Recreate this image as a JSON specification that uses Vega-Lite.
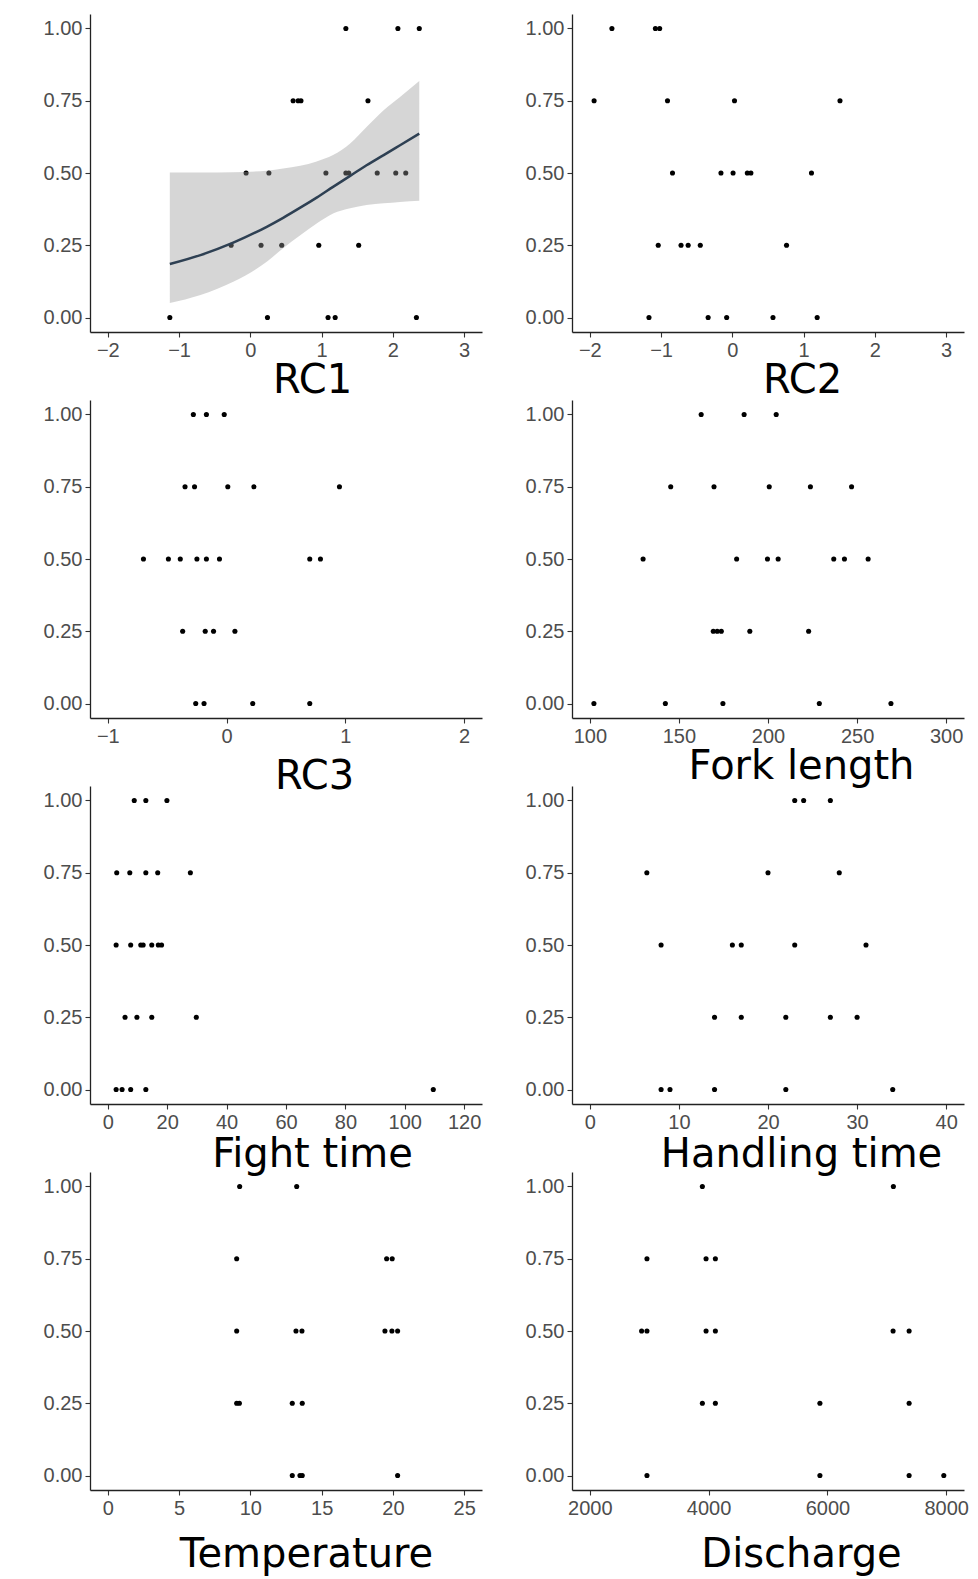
{
  "$schema": "https://vega.github.io/schema/vega-lite/v6.json",
  "background": "white",
  "padding": {"left": 43, "top": 14, "right": 5, "bottom": 5},
  "config": {
    "view": {"stroke": null},
    "axis": {"grid": false, "domainColor": "#222222", "domainWidth": 1.3, "tickColor": "#333333", "tickSize": 5, "tickWidth": 1.1, "labelFont": "Liberation Sans", "labelFontSize": 20, "labelColor": "#4d4d4d", "labelPadding": 3, "titleFont": "DejaVu Sans", "titleFontSize": 40, "titleFontWeight": "normal", "titleColor": "#000000", "titleBaseline": "alphabetic", "titleAlign": "center"}
  },
  "datasets": {
    "pts": [
      {"p":"RC1","x":1.34,"y":1},{"p":"RC1","x":2.07,"y":1},{"p":"RC1","x":2.37,"y":1},
      {"p":"RC1","x":0.6,"y":0.75},{"p":"RC1","x":0.67,"y":0.75},{"p":"RC1","x":0.71,"y":0.75},{"p":"RC1","x":1.65,"y":0.75},
      {"p":"RC1","x":-0.06,"y":0.5},{"p":"RC1","x":0.26,"y":0.5},{"p":"RC1","x":1.06,"y":0.5},{"p":"RC1","x":1.34,"y":0.5},{"p":"RC1","x":1.38,"y":0.5},{"p":"RC1","x":1.78,"y":0.5},{"p":"RC1","x":2.04,"y":0.5},{"p":"RC1","x":2.18,"y":0.5},
      {"p":"RC1","x":-0.27,"y":0.25},{"p":"RC1","x":0.15,"y":0.25},{"p":"RC1","x":0.44,"y":0.25},{"p":"RC1","x":0.96,"y":0.25},{"p":"RC1","x":1.52,"y":0.25},
      {"p":"RC1","x":-1.13,"y":0},{"p":"RC1","x":0.24,"y":0},{"p":"RC1","x":1.09,"y":0},{"p":"RC1","x":1.19,"y":0},{"p":"RC1","x":2.33,"y":0},

      {"p":"RC2","x":-1.69,"y":1},{"p":"RC2","x":-1.08,"y":1},{"p":"RC2","x":-1.02,"y":1},
      {"p":"RC2","x":-1.94,"y":0.75},{"p":"RC2","x":-0.91,"y":0.75},{"p":"RC2","x":0.03,"y":0.75},{"p":"RC2","x":1.51,"y":0.75},
      {"p":"RC2","x":-0.84,"y":0.5},{"p":"RC2","x":-0.16,"y":0.5},{"p":"RC2","x":0.01,"y":0.5},{"p":"RC2","x":0.21,"y":0.5},{"p":"RC2","x":0.26,"y":0.5},{"p":"RC2","x":1.11,"y":0.5},
      {"p":"RC2","x":-1.04,"y":0.25},{"p":"RC2","x":-0.72,"y":0.25},{"p":"RC2","x":-0.62,"y":0.25},{"p":"RC2","x":-0.45,"y":0.25},{"p":"RC2","x":0.76,"y":0.25},
      {"p":"RC2","x":-1.17,"y":0},{"p":"RC2","x":-0.34,"y":0},{"p":"RC2","x":-0.08,"y":0},{"p":"RC2","x":0.57,"y":0},{"p":"RC2","x":1.19,"y":0},

      {"p":"RC3","x":-0.28,"y":1},{"p":"RC3","x":-0.17,"y":1},{"p":"RC3","x":-0.02,"y":1},
      {"p":"RC3","x":-0.35,"y":0.75},{"p":"RC3","x":-0.27,"y":0.75},{"p":"RC3","x":0.01,"y":0.75},{"p":"RC3","x":0.23,"y":0.75},{"p":"RC3","x":0.95,"y":0.75},
      {"p":"RC3","x":-0.7,"y":0.5},{"p":"RC3","x":-0.49,"y":0.5},{"p":"RC3","x":-0.39,"y":0.5},{"p":"RC3","x":-0.25,"y":0.5},{"p":"RC3","x":-0.17,"y":0.5},{"p":"RC3","x":-0.06,"y":0.5},{"p":"RC3","x":0.7,"y":0.5},{"p":"RC3","x":0.79,"y":0.5},
      {"p":"RC3","x":-0.37,"y":0.25},{"p":"RC3","x":-0.18,"y":0.25},{"p":"RC3","x":-0.11,"y":0.25},{"p":"RC3","x":0.07,"y":0.25},
      {"p":"RC3","x":-0.26,"y":0},{"p":"RC3","x":-0.19,"y":0},{"p":"RC3","x":0.22,"y":0},{"p":"RC3","x":0.7,"y":0},

      {"p":"FL","x":162.5,"y":1},{"p":"FL","x":186.6,"y":1},{"p":"FL","x":204.6,"y":1},
      {"p":"FL","x":145.4,"y":0.75},{"p":"FL","x":169.7,"y":0.75},{"p":"FL","x":200.7,"y":0.75},{"p":"FL","x":223.8,"y":0.75},{"p":"FL","x":246.9,"y":0.75},
      {"p":"FL","x":129.9,"y":0.5},{"p":"FL","x":182.4,"y":0.5},{"p":"FL","x":199.7,"y":0.5},{"p":"FL","x":205.7,"y":0.5},{"p":"FL","x":236.9,"y":0.5},{"p":"FL","x":242.9,"y":0.5},{"p":"FL","x":256.2,"y":0.5},
      {"p":"FL","x":169.3,"y":0.25},{"p":"FL","x":171.5,"y":0.25},{"p":"FL","x":173.8,"y":0.25},{"p":"FL","x":189.8,"y":0.25},{"p":"FL","x":222.8,"y":0.25},
      {"p":"FL","x":102.3,"y":0},{"p":"FL","x":142.4,"y":0},{"p":"FL","x":174.7,"y":0},{"p":"FL","x":228.8,"y":0},{"p":"FL","x":269,"y":0},

      {"p":"FT","x":8.9,"y":1},{"p":"FT","x":12.8,"y":1},{"p":"FT","x":19.9,"y":1},
      {"p":"FT","x":3.0,"y":0.75},{"p":"FT","x":7.4,"y":0.75},{"p":"FT","x":12.8,"y":0.75},{"p":"FT","x":16.8,"y":0.75},{"p":"FT","x":27.8,"y":0.75},
      {"p":"FT","x":2.8,"y":0.5},{"p":"FT","x":7.7,"y":0.5},{"p":"FT","x":11.1,"y":0.5},{"p":"FT","x":11.9,"y":0.5},{"p":"FT","x":14.8,"y":0.5},{"p":"FT","x":17.0,"y":0.5},{"p":"FT","x":18.1,"y":0.5},
      {"p":"FT","x":5.8,"y":0.25},{"p":"FT","x":9.8,"y":0.25},{"p":"FT","x":14.8,"y":0.25},{"p":"FT","x":29.8,"y":0.25},
      {"p":"FT","x":2.8,"y":0},{"p":"FT","x":4.8,"y":0},{"p":"FT","x":7.7,"y":0},{"p":"FT","x":12.8,"y":0},{"p":"FT","x":109.6,"y":0},

      {"p":"HT","x":23,"y":1},{"p":"HT","x":24,"y":1},{"p":"HT","x":27,"y":1},
      {"p":"HT","x":6.4,"y":0.75},{"p":"HT","x":20,"y":0.75},{"p":"HT","x":28,"y":0.75},
      {"p":"HT","x":8,"y":0.5},{"p":"HT","x":16,"y":0.5},{"p":"HT","x":17,"y":0.5},{"p":"HT","x":23,"y":0.5},{"p":"HT","x":31,"y":0.5},
      {"p":"HT","x":14,"y":0.25},{"p":"HT","x":17,"y":0.25},{"p":"HT","x":22,"y":0.25},{"p":"HT","x":27,"y":0.25},{"p":"HT","x":30,"y":0.25},
      {"p":"HT","x":8,"y":0},{"p":"HT","x":9,"y":0},{"p":"HT","x":14,"y":0},{"p":"HT","x":22,"y":0},{"p":"HT","x":34,"y":0},

      {"p":"TE","x":9.25,"y":1},{"p":"TE","x":13.25,"y":1},
      {"p":"TE","x":9.04,"y":0.75},{"p":"TE","x":19.56,"y":0.75},{"p":"TE","x":19.95,"y":0.75},
      {"p":"TE","x":9.04,"y":0.5},{"p":"TE","x":13.2,"y":0.5},{"p":"TE","x":13.62,"y":0.5},{"p":"TE","x":19.44,"y":0.5},{"p":"TE","x":19.93,"y":0.5},{"p":"TE","x":20.33,"y":0.5},
      {"p":"TE","x":9.04,"y":0.25},{"p":"TE","x":9.23,"y":0.25},{"p":"TE","x":12.94,"y":0.25},{"p":"TE","x":13.64,"y":0.25},
      {"p":"TE","x":12.94,"y":0},{"p":"TE","x":13.48,"y":0},{"p":"TE","x":13.64,"y":0},{"p":"TE","x":20.33,"y":0},

      {"p":"DI","x":3895,"y":1},{"p":"DI","x":7111,"y":1},
      {"p":"DI","x":2962,"y":0.75},{"p":"DI","x":3957,"y":0.75},{"p":"DI","x":4114,"y":0.75},
      {"p":"DI","x":2872,"y":0.5},{"p":"DI","x":2962,"y":0.5},{"p":"DI","x":3957,"y":0.5},{"p":"DI","x":4114,"y":0.5},{"p":"DI","x":7106,"y":0.5},{"p":"DI","x":7376,"y":0.5},
      {"p":"DI","x":3895,"y":0.25},{"p":"DI","x":4114,"y":0.25},{"p":"DI","x":5874,"y":0.25},{"p":"DI","x":7376,"y":0.25},
      {"p":"DI","x":2962,"y":0},{"p":"DI","x":5874,"y":0},{"p":"DI","x":7376,"y":0},{"p":"DI","x":7960,"y":0}
    ],
    "fit": [
      {"x":-1.13,"lo":0.05,"fit":0.185,"hi":0.502},
      {"x":-0.7,"lo":0.078,"fit":0.216,"hi":0.502},
      {"x":-0.24,"lo":0.124,"fit":0.259,"hi":0.503},
      {"x":0.23,"lo":0.193,"fit":0.314,"hi":0.508},
      {"x":0.46,"lo":0.24,"fit":0.345,"hi":0.516},
      {"x":0.7,"lo":0.285,"fit":0.38,"hi":0.525},
      {"x":0.93,"lo":0.325,"fit":0.415,"hi":0.54},
      {"x":1.16,"lo":0.36,"fit":0.452,"hi":0.562},
      {"x":1.4,"lo":0.378,"fit":0.49,"hi":0.602},
      {"x":1.63,"lo":0.389,"fit":0.527,"hi":0.659},
      {"x":1.87,"lo":0.395,"fit":0.562,"hi":0.717},
      {"x":2.1,"lo":0.4,"fit":0.596,"hi":0.763},
      {"x":2.37,"lo":0.404,"fit":0.636,"hi":0.818}
    ]
  },
  "bounds": "flush",
  "columns": 2,
  "spacing": {"row": 68, "column": 90},
  "concat": [
    {
      "width": 392, "height": 318,
      "encoding": {
        "x": {"field": "x", "type": "quantitative", "scale": {"domain": [-2.25, 3.25], "nice": false, "zero": false}, "axis": {"values": [-2,-1,0,1,2,3], "title": "RC1", "titleX": 222, "titleY": 60}}
      },
      "layer": [
        {"data": {"name": "pts"}, "transform": [{"filter": "datum.p == 'RC1'"}],
         "mark": {"type": "point", "filled": true, "size": 26, "color": "#000000", "opacity": 1},
         "encoding": {"y": {"field": "y", "type": "quantitative", "scale": {"domain": [-0.05, 1.05], "nice": false, "zero": false}, "axis": {"values": [0,0.25,0.5,0.75,1], "format": ".2f", "title": null}}}},
        {"data": {"name": "fit"},
         "mark": {"type": "area", "color": "#999999", "opacity": 0.4, "interpolate": "monotone"},
         "encoding": {"y": {"field": "lo", "type": "quantitative", "scale": {"domain": [-0.05, 1.05], "nice": false, "zero": false}, "axis": {"values": [0,0.25,0.5,0.75,1], "format": ".2f", "title": null}}, "y2": {"field": "hi"}}},
        {"data": {"name": "fit"},
         "mark": {"type": "line", "color": "#2E4053", "strokeWidth": 2.5, "interpolate": "monotone"},
         "encoding": {"y": {"field": "fit", "type": "quantitative", "scale": {"domain": [-0.05, 1.05], "nice": false, "zero": false}, "axis": {"values": [0,0.25,0.5,0.75,1], "format": ".2f", "title": null}}}}
      ]
    },
    {
      "width": 392, "height": 318,
      "data": {"name": "pts"}, "transform": [{"filter": "datum.p == 'RC2'"}],
      "mark": {"type": "point", "filled": true, "size": 26, "color": "#000000", "opacity": 1},
      "encoding": {
        "x": {"field": "x", "type": "quantitative", "scale": {"domain": [-2.25, 3.25], "nice": false, "zero": false}, "axis": {"values": [-2,-1,0,1,2,3], "title": "RC2", "titleX": 230, "titleY": 60}},
        "y": {"field": "y", "type": "quantitative", "scale": {"domain": [-0.05, 1.05], "nice": false, "zero": false}, "axis": {"values": [0,0.25,0.5,0.75,1], "format": ".2f", "title": null}}
      }
    },
    {
      "width": 392, "height": 318,
      "data": {"name": "pts"}, "transform": [{"filter": "datum.p == 'RC3'"}],
      "mark": {"type": "point", "filled": true, "size": 26, "color": "#000000", "opacity": 1},
      "encoding": {
        "x": {"field": "x", "type": "quantitative", "scale": {"domain": [-1.15, 2.15], "nice": false, "zero": false}, "axis": {"values": [-1,0,1,2], "title": "RC3", "titleX": 224, "titleY": 70}},
        "y": {"field": "y", "type": "quantitative", "scale": {"domain": [-0.05, 1.05], "nice": false, "zero": false}, "axis": {"values": [0,0.25,0.5,0.75,1], "format": ".2f", "title": null}}
      }
    },
    {
      "width": 392, "height": 318,
      "data": {"name": "pts"}, "transform": [{"filter": "datum.p == 'FL'"}],
      "mark": {"type": "point", "filled": true, "size": 26, "color": "#000000", "opacity": 1},
      "encoding": {
        "x": {"field": "x", "type": "quantitative", "scale": {"domain": [90, 310], "nice": false, "zero": false}, "axis": {"values": [100,150,200,250,300], "title": "Fork length", "titleX": 229, "titleY": 60}},
        "y": {"field": "y", "type": "quantitative", "scale": {"domain": [-0.05, 1.05], "nice": false, "zero": false}, "axis": {"values": [0,0.25,0.5,0.75,1], "format": ".2f", "title": null}}
      }
    },
    {
      "width": 392, "height": 318,
      "data": {"name": "pts"}, "transform": [{"filter": "datum.p == 'FT'"}],
      "mark": {"type": "point", "filled": true, "size": 26, "color": "#000000", "opacity": 1},
      "encoding": {
        "x": {"field": "x", "type": "quantitative", "scale": {"domain": [-6, 126], "nice": false, "zero": false}, "axis": {"values": [0,20,40,60,80,100,120], "title": "Fight time", "titleX": 222, "titleY": 62}},
        "y": {"field": "y", "type": "quantitative", "scale": {"domain": [-0.05, 1.05], "nice": false, "zero": false}, "axis": {"values": [0,0.25,0.5,0.75,1], "format": ".2f", "title": null}}
      }
    },
    {
      "width": 392, "height": 318,
      "data": {"name": "pts"}, "transform": [{"filter": "datum.p == 'HT'"}],
      "mark": {"type": "point", "filled": true, "size": 26, "color": "#000000", "opacity": 1},
      "encoding": {
        "x": {"field": "x", "type": "quantitative", "scale": {"domain": [-2, 42], "nice": false, "zero": false}, "axis": {"values": [0,10,20,30,40], "title": "Handling time", "titleX": 229, "titleY": 62}},
        "y": {"field": "y", "type": "quantitative", "scale": {"domain": [-0.05, 1.05], "nice": false, "zero": false}, "axis": {"values": [0,0.25,0.5,0.75,1], "format": ".2f", "title": null}}
      }
    },
    {
      "width": 392, "height": 318,
      "data": {"name": "pts"}, "transform": [{"filter": "datum.p == 'TE'"}],
      "mark": {"type": "point", "filled": true, "size": 26, "color": "#000000", "opacity": 1},
      "encoding": {
        "x": {"field": "x", "type": "quantitative", "scale": {"domain": [-1.25, 26.25], "nice": false, "zero": false}, "axis": {"values": [0,5,10,15,20,25], "title": "Temperature", "titleX": 216, "titleY": 76}},
        "y": {"field": "y", "type": "quantitative", "scale": {"domain": [-0.05, 1.05], "nice": false, "zero": false}, "axis": {"values": [0,0.25,0.5,0.75,1], "format": ".2f", "title": null}}
      }
    },
    {
      "width": 392, "height": 318,
      "data": {"name": "pts"}, "transform": [{"filter": "datum.p == 'DI'"}],
      "mark": {"type": "point", "filled": true, "size": 26, "color": "#000000", "opacity": 1},
      "encoding": {
        "x": {"field": "x", "type": "quantitative", "scale": {"domain": [1700, 8300], "nice": false, "zero": false}, "axis": {"values": [2000,4000,6000,8000], "format": "d", "title": "Discharge", "titleX": 229, "titleY": 76}},
        "y": {"field": "y", "type": "quantitative", "scale": {"domain": [-0.05, 1.05], "nice": false, "zero": false}, "axis": {"values": [0,0.25,0.5,0.75,1], "format": ".2f", "title": null}}
      }
    }
  ]
}
